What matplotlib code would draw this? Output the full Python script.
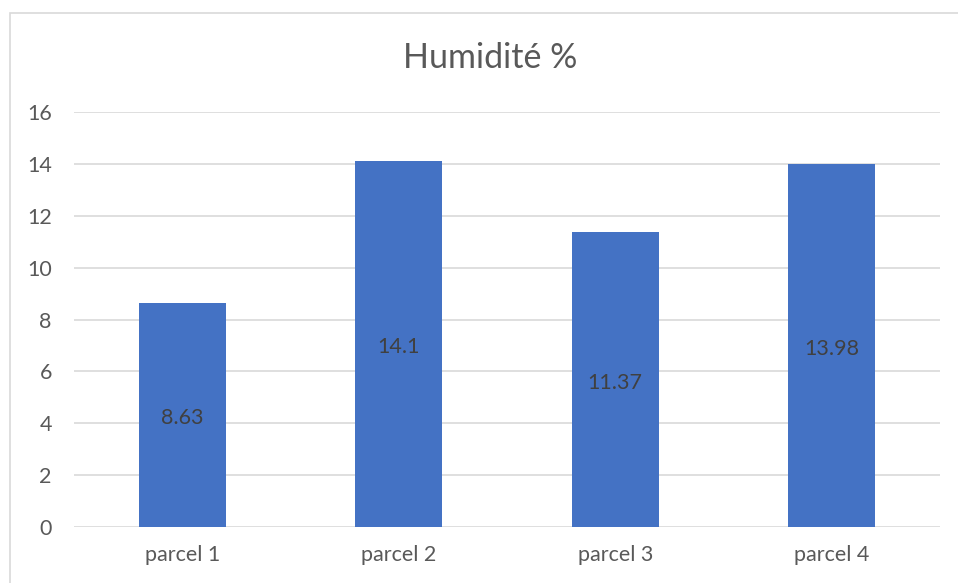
import matplotlib
matplotlib.use("Agg")
import matplotlib.pyplot as plt
from matplotlib.patches import Rectangle

# --- DATA ---
categories = ["parcel 1", "parcel 2", "parcel 3", "parcel 4"]
values = [8.63, 14.1, 11.37, 13.98]
yticks = [0, 2, 4, 6, 8, 10, 12, 14, 16]

plt.rcParams["font.family"] = ["Lato", "DejaVu Sans"]
text_color = "#595959"

fig = plt.figure(figsize=(9.58, 5.83), dpi=100)
ax = fig.add_axes([74 / 958, 1 - 527 / 583, (940 - 74) / 958, (527 - 112) / 583])

# chart frame (right and bottom edges fall outside the image)
fig.patches.append(Rectangle((10 / 958, -0.05), 1.0, 1.05 - 13 / 583,
                             transform=fig.transFigure, fill=False,
                             edgecolor="#D9D9D9", linewidth=1.2))

x = range(len(categories))
bars = ax.bar(x, values, width=0.4, color="#4472C4", zorder=3)

for b, v in zip(bars, values):
    ax.text(b.get_x() + b.get_width() / 2, v / 2 - 0.12, f"{v:g}", ha="center", va="center",
            fontsize=15.5, color="#404040", zorder=4)

ax.set_xlim(-0.5, len(categories) - 0.5)
ax.set_ylim(0, 16)
ax.set_yticks(yticks)
ax.set_xticks(list(x))
ax.set_xticklabels(categories)
ax.grid(axis="y", color="#D9D9D9", linewidth=1.2, zorder=0)
ax.tick_params(axis="both", length=0, labelsize=15.5, colors=text_color)
ax.tick_params(axis="y", pad=16)
ax.tick_params(axis="x", pad=13)
for s in ax.spines.values():
    s.set_visible(False)

fig.text(490 / 958, 1 - 58 / 583, "Humidité %", ha="center", va="center",
         fontsize=24.5, color=text_color)

fig.savefig("out.png", dpi=100, facecolor="white")
